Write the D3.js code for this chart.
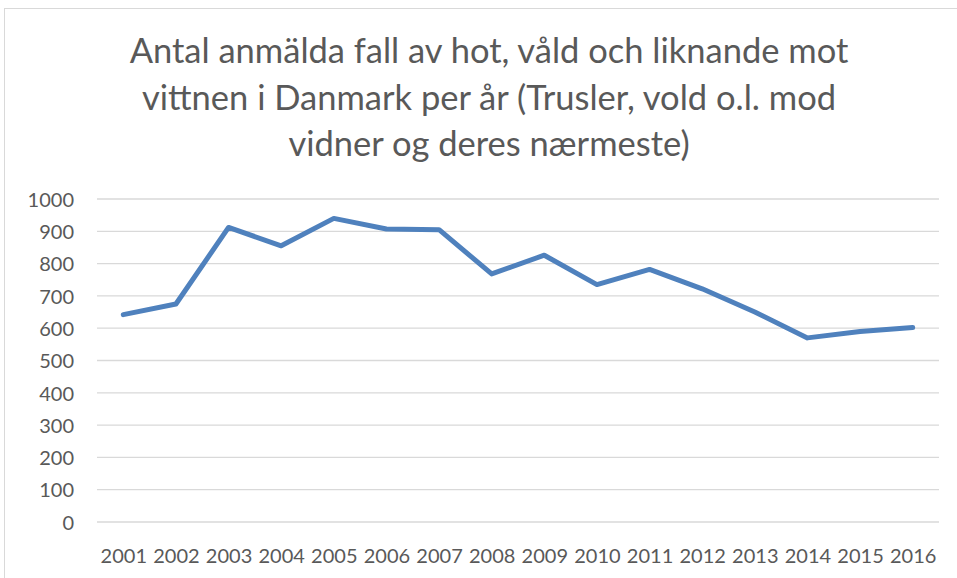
<!DOCTYPE html>
<html><head><meta charset="utf-8">
<script src="https://cdn.jsdelivr.net/npm/d3@7"></script>
<style>html,body{margin:0;padding:0;background:#fff;}svg{display:block;}</style>
</head><body>
<script>
const years = ["2001","2002","2003","2004","2005","2006","2007","2008","2009","2010","2011","2012","2013","2014","2015","2016"];
const values = [642,675,912,855,940,907,905,768,826,735,782,722,650,570,590,602];
const yTicks = [0,100,200,300,400,500,600,700,800,900,1000];
const titleLines = ["Antal anmälda fall av hot, våld och liknande mot","vittnen i Danmark per år (Trusler, vold o.l. mod","vidner og deres nærmeste)"];

const W = 957, H = 578;
const svg = d3.select("body").append("svg").attr("width", W).attr("height", H);
const font = "Lato, 'Open Sans', sans-serif";
const gray = "#595959";

// outer frame
svg.append("rect").attr("x",4.5).attr("y",8.5).attr("width",W+20).attr("height",H+20)
  .attr("fill","#fff").attr("stroke","#d9d9d9").attr("stroke-width",1);

const x = d3.scalePoint().domain(years).range([97,939]).padding(0.5);
const y = d3.scaleLinear().domain([0,1000]).range([522,199]);

// title
svg.append("g").selectAll("text").data(titleLines).join("text")
  .attr("x", 489).attr("y",(d,i)=>63+i*46.5)
  .attr("text-anchor","middle").attr("font-family",font).attr("font-size",34.5)
  .attr("fill",gray).text(d=>d);

// gridlines
svg.append("g").selectAll("line").data(yTicks).join("line")
  .attr("x1",97).attr("x2",939).attr("y1",d=>y(d)).attr("y2",d=>y(d))
  .attr("stroke","#d9d9d9").attr("stroke-width",1.3);

// y axis labels
const yAxis = d3.axisLeft(y).tickValues(yTicks).tickFormat(d3.format("d")).tickSize(0).tickPadding(0);
const gy = svg.append("g").attr("transform","translate(74,0)").call(yAxis);
gy.select(".domain").remove();
gy.selectAll("text").attr("font-family",font).attr("font-size",20).attr("fill",gray).attr("dy","0.36em");

// x axis labels
const xAxis = d3.axisBottom(x).tickSize(0).tickPadding(0);
const gx = svg.append("g").attr("transform","translate(0,563)").call(xAxis);
gx.select(".domain").remove();
gx.selectAll("text").attr("font-family",font).attr("font-size",20).attr("fill",gray).attr("dy","0");

// line
const line = d3.line().x((d,i)=>x(years[i])).y(d=>y(d));
svg.append("path").datum(values).attr("d",line).attr("fill","none")
  .attr("stroke","#4f81bd").attr("stroke-width",5).attr("stroke-linejoin","round").attr("stroke-linecap","round");
</script>
</body></html>
